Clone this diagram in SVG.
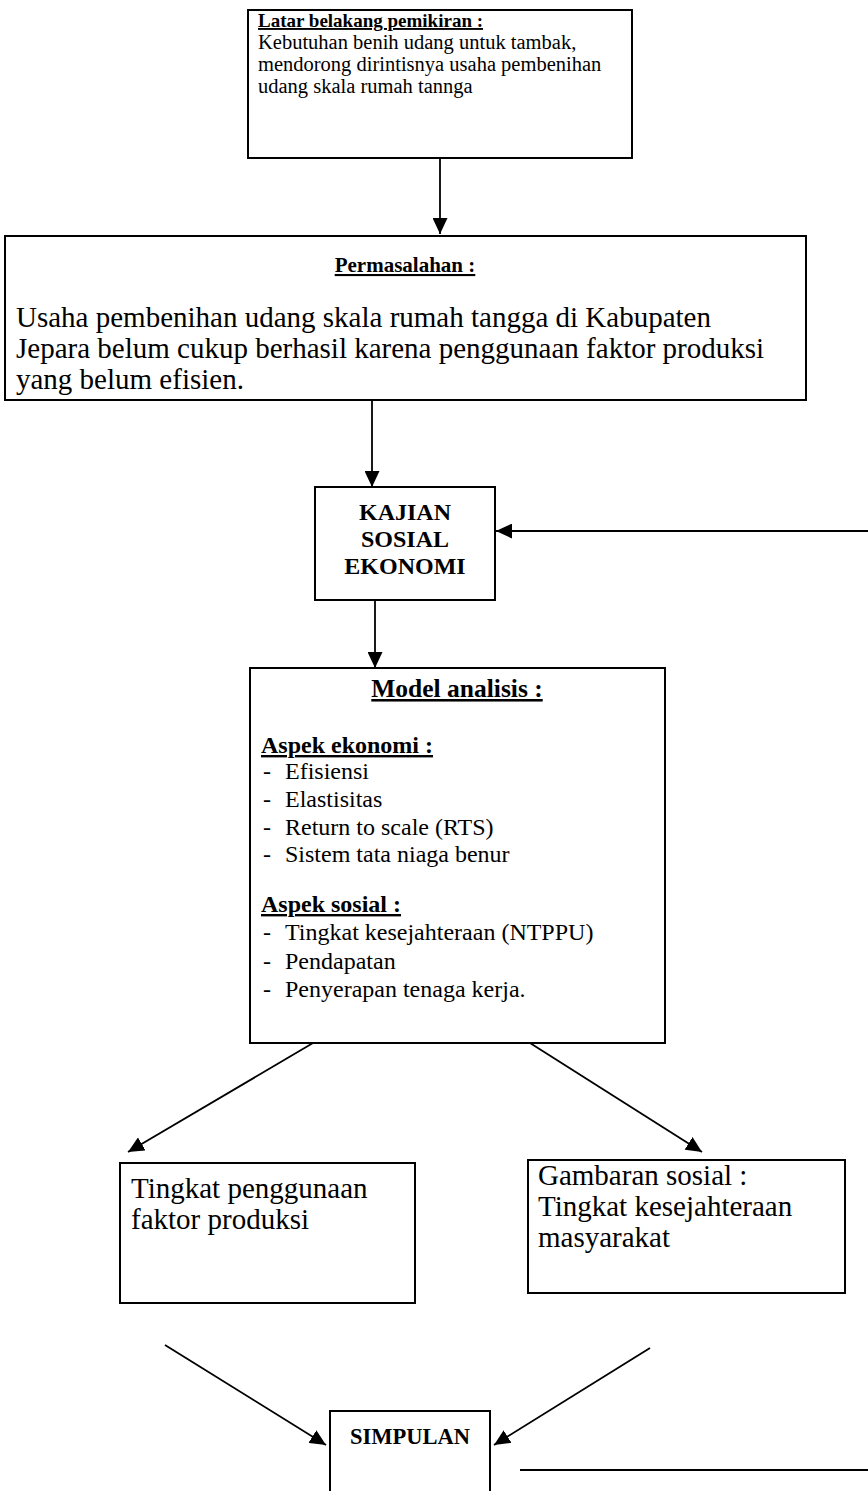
<svg xmlns="http://www.w3.org/2000/svg" width="868" height="1491" viewBox="0 0 868 1491">
<style>
.box{fill:#fff;stroke:#000;stroke-width:2}
.t{font-family:"Liberation Serif","Times New Roman",serif;fill:#000}
.b{font-weight:bold}
.u{text-decoration:underline}
.c{stroke:#000;stroke-width:1.8;fill:none}
</style>
<defs>
<marker id="ah" markerUnits="userSpaceOnUse" markerWidth="17" markerHeight="15" refX="16" refY="7.5" orient="auto">
<path d="M0,0 L16,7.5 L0,15 z" fill="#000"/>
</marker>
</defs>
<rect width="868" height="1491" fill="#fff"/>
<g id="connectors">
<line class="c" x1="440" y1="158" x2="440" y2="234" marker-end="url(#ah)"/>
<line class="c" x1="372" y1="400" x2="372" y2="487" marker-end="url(#ah)"/>
<line class="c" x1="868" y1="531" x2="496" y2="531" marker-end="url(#ah)"/>
<line class="c" x1="375" y1="600" x2="375" y2="668" marker-end="url(#ah)"/>
<line class="c" x1="313" y1="1043" x2="128" y2="1152" marker-end="url(#ah)"/>
<line class="c" x1="530" y1="1043" x2="702" y2="1152" marker-end="url(#ah)"/>
<line class="c" x1="165" y1="1345" x2="326" y2="1445" marker-end="url(#ah)"/>
<line class="c" x1="650" y1="1348" x2="494" y2="1445" marker-end="url(#ah)"/>
<line class="c" x1="520" y1="1470" x2="868" y2="1470"/>
</g>
<g id="latar">
<rect class="box" x="248" y="10" width="384" height="148"/>
<text class="t b u" x="258" y="27" font-size="19">Latar belakang pemikiran :</text>
<text class="t" x="258" y="49" font-size="20.5">Kebutuhan benih udang untuk tambak,</text>
<text class="t" x="258" y="71" font-size="20.5">mendorong dirintisnya usaha pembenihan</text>
<text class="t" x="258" y="93" font-size="20.5">udang skala rumah tannga</text>
</g>
<g id="permasalahan">
<rect class="box" x="5" y="236" width="801" height="164"/>
<text class="t b u" x="405" y="272" font-size="21" text-anchor="middle">Permasalahan :</text>
<text class="t" x="16" y="327" font-size="29">Usaha pembenihan udang skala rumah tangga di Kabupaten</text>
<text class="t" x="16" y="358" font-size="29">Jepara belum cukup berhasil karena penggunaan faktor produksi</text>
<text class="t" x="16" y="389" font-size="29">yang belum efisien.</text>
</g>
<g id="kajian">
<rect class="box" x="315" y="487" width="180" height="113"/>
<text class="t b" x="405" y="520" font-size="24" text-anchor="middle">KAJIAN</text>
<text class="t b" x="405" y="547" font-size="24" text-anchor="middle">SOSIAL</text>
<text class="t b" x="405" y="574" font-size="24" text-anchor="middle">EKONOMI</text>
</g>
<g id="model">
<rect class="box" x="250" y="668" width="415" height="375"/>
<text class="t b u" x="457" y="697" font-size="25.5" text-anchor="middle">Model analisis :</text>
<text class="t b u" x="261" y="753" font-size="24">Aspek ekonomi :</text>
<text class="t" font-size="24"><tspan x="263" y="779">-</tspan><tspan x="285" y="779">Efisiensi</tspan></text>
<text class="t" font-size="24"><tspan x="263" y="807">-</tspan><tspan x="285" y="807">Elastisitas</tspan></text>
<text class="t" font-size="24"><tspan x="263" y="835">-</tspan><tspan x="285" y="835">Return to scale (RTS)</tspan></text>
<text class="t" font-size="24"><tspan x="263" y="862">-</tspan><tspan x="285" y="862">Sistem tata niaga benur</tspan></text>
<text class="t b u" x="261" y="912" font-size="24">Aspek sosial :</text>
<text class="t" font-size="24"><tspan x="263" y="940">-</tspan><tspan x="285" y="940">Tingkat kesejahteraan (NTPPU)</tspan></text>
<text class="t" font-size="24"><tspan x="263" y="969">-</tspan><tspan x="285" y="969">Pendapatan</tspan></text>
<text class="t" font-size="24"><tspan x="263" y="997">-</tspan><tspan x="285" y="997">Penyerapan tenaga kerja.</tspan></text>
</g>
<g id="penggunaan">
<rect class="box" x="120" y="1163" width="295" height="140"/>
<text class="t" x="131" y="1198" font-size="29">Tingkat penggunaan</text>
<text class="t" x="131" y="1229" font-size="29">faktor produksi</text>
</g>
<g id="gambaran">
<rect class="box" x="528" y="1160" width="317" height="133"/>
<text class="t" x="538" y="1185" font-size="29">Gambaran sosial :</text>
<text class="t" x="538" y="1216" font-size="29">Tingkat kesejahteraan</text>
<text class="t" x="538" y="1247" font-size="29">masyarakat</text>
</g>
<g id="simpulan">
<rect class="box" x="330" y="1411" width="160" height="90"/>
<text class="t b" x="410" y="1444" font-size="22.5" text-anchor="middle">SIMPULAN</text>
</g>
</svg>
